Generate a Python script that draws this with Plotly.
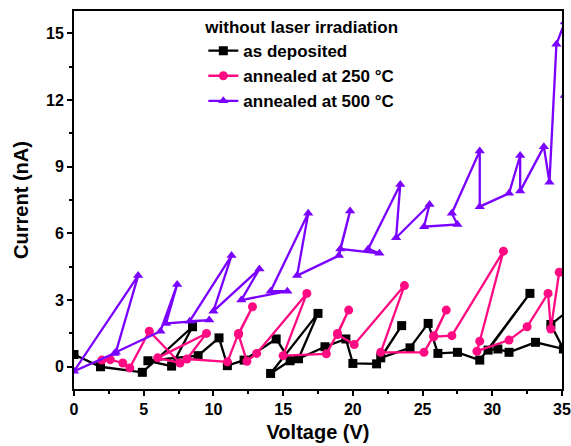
import plotly.graph_objects as go

# as deposited (black squares)
v_dep = [0.0, 1.9, 4.9, 8.5, 7.0, 5.3, 8.9, 10.4, 11.0, 12.2, 14.5, 15.5, 14.1, 17.5, 16.1,
         18.0, 19.5, 20.0, 21.7, 23.5, 22.0, 24.1, 25.4, 26.1, 27.5, 29.1, 32.7, 29.7,
         30.4, 31.2, 33.1, 35.1, 34.2, 35.6]
i_dep = [0.55, 0.0, -0.25, 1.8, 0.03, 0.27, 0.5, 1.3, 0.05, 0.3, 1.25, 0.27, -0.3, 2.4, 0.36,
         0.9, 1.25, 0.15, 0.13, 1.85, 0.4, 0.85, 1.95, 0.6, 0.65, 0.3, 3.3, 0.75,
         0.8, 0.65, 1.1, 0.8, 1.9, 2.6]

# annealed at 250 C (pink circles)
v_250 = [2.0, 2.6, 3.5, 4.0, 5.4, 7.6, 6.0, 9.5, 8.1, 11.0, 11.8, 12.8, 11.8, 12.4, 13.1,
         16.7, 15.0, 18.1, 18.9, 19.7, 18.9, 20.1, 23.7, 22.0, 25.1, 25.8, 26.7, 25.8,
         27.1, 30.8, 29.1, 28.9, 31.2, 32.5, 34.0, 34.2, 34.8, 35.1, 35.4]
i_250 = [0.30, 0.32, 0.17, -0.05, 1.60, 0.17, 0.40, 1.50, 0.35, 0.22, 1.50, 2.70, 1.45, 0.25, 0.60,
         3.30, 0.50, 0.58, 1.50, 2.55, 1.45, 1.00, 3.65, 0.65, 0.65, 1.40, 2.55, 1.35,
         1.40, 5.20, 1.15, 0.70, 1.20, 1.80, 3.30, 1.70, 4.25, 4.25, 3.4]

# annealed at 500 C (purple triangles)
v_500 = [2.9, 0.0, 4.6, 3.0, 6.2, 7.4, 6.6, 9.7, 8.3, 11.3, 10.0, 13.3, 12.0, 15.3, 14.1,
         16.8, 16.0, 19.0, 19.8, 19.1, 21.9, 21.1, 23.4, 23.1, 25.5, 25.1, 27.5, 27.1,
         29.1, 29.1, 31.2, 32.0, 32.0, 33.7, 34.1, 34.6, 35.2, 35.2]
i_500 = [0.6, -0.2, 4.1, 0.65, 1.6, 3.7, 1.95, 2.1, 2.05, 5.0, 2.5, 4.4, 3.0, 3.4, 3.4,
         6.9, 4.1, 5.0, 7.0, 5.3, 5.1, 5.3, 8.2, 5.8, 7.3, 6.3, 6.4, 6.9,
         9.7, 7.2, 7.8, 9.5, 7.9, 9.9, 8.3, 14.5, 15.5, 12.2]

names = ["as deposited", "annealed at 250 °C", "annealed at 500 °C"]
colors = ["#000000", "#FF0A82", "#7A00FF"]
symbols = ["square", "circle", "triangle-up"]

FONT = "Liberation Sans, Arial, sans-serif"

fig = go.Figure()
for vx, iy, nm, c, s in zip([v_dep, v_250, v_500], [i_dep, i_250, i_500], names, colors, symbols):
    fig.add_trace(go.Scatter(
        x=vx, y=iy, name=nm, mode="lines+markers",
        line=dict(color=c, width=2.3),
        marker=dict(symbol=s, size=9, color=c),
        cliponaxis=True,
    ))

axis_common = dict(
    showgrid=False, zeroline=False, showline=True, linecolor="black", linewidth=2,
    mirror=True, ticks="outside", tickcolor="black", tickwidth=2, ticklen=5,
    tickfont=dict(family=FONT, size=16, color="black", weight="bold"),
    minor=dict(ticks="outside", ticklen=3, tickwidth=1.5, tickcolor="black"),
    automargin=False,
)

fig.update_xaxes(range=[0, 35], dtick=5, tick0=0,
                 title=dict(text="Voltage (V)", font=dict(family=FONT, size=20, color="black", weight="bold"), standoff=8),
                 **axis_common)
fig.update_xaxes(minor=dict(dtick=2.5))
fig.update_yaxes(range=[-1, 16], dtick=3, tick0=0,
                 title=dict(text="Current (nA)", font=dict(family=FONT, size=20, color="black", weight="bold"), standoff=12),
                 **axis_common)
fig.update_yaxes(minor=dict(dtick=1.5))

fig.update_layout(
    width=571, height=446,
    margin=dict(l=74, r=9, t=11, b=57),
    plot_bgcolor="white", paper_bgcolor="white",
    font=dict(family=FONT, color="black"),
    legend=dict(
        title=dict(text="without laser irradiation", font=dict(family=FONT, size=17, color="black", weight="bold")),
        font=dict(family=FONT, size=17, color="black", weight="bold"),
        x=0.265, y=1.0, xanchor="left", yanchor="top",
        bgcolor="rgba(0,0,0,0)", tracegroupgap=0, itemwidth=30,
    ),
)

fig.write_html("out.html", config={"displayModeBar": False},
               post_script="document.body.style.margin='0';document.body.style.overflow='hidden';")
